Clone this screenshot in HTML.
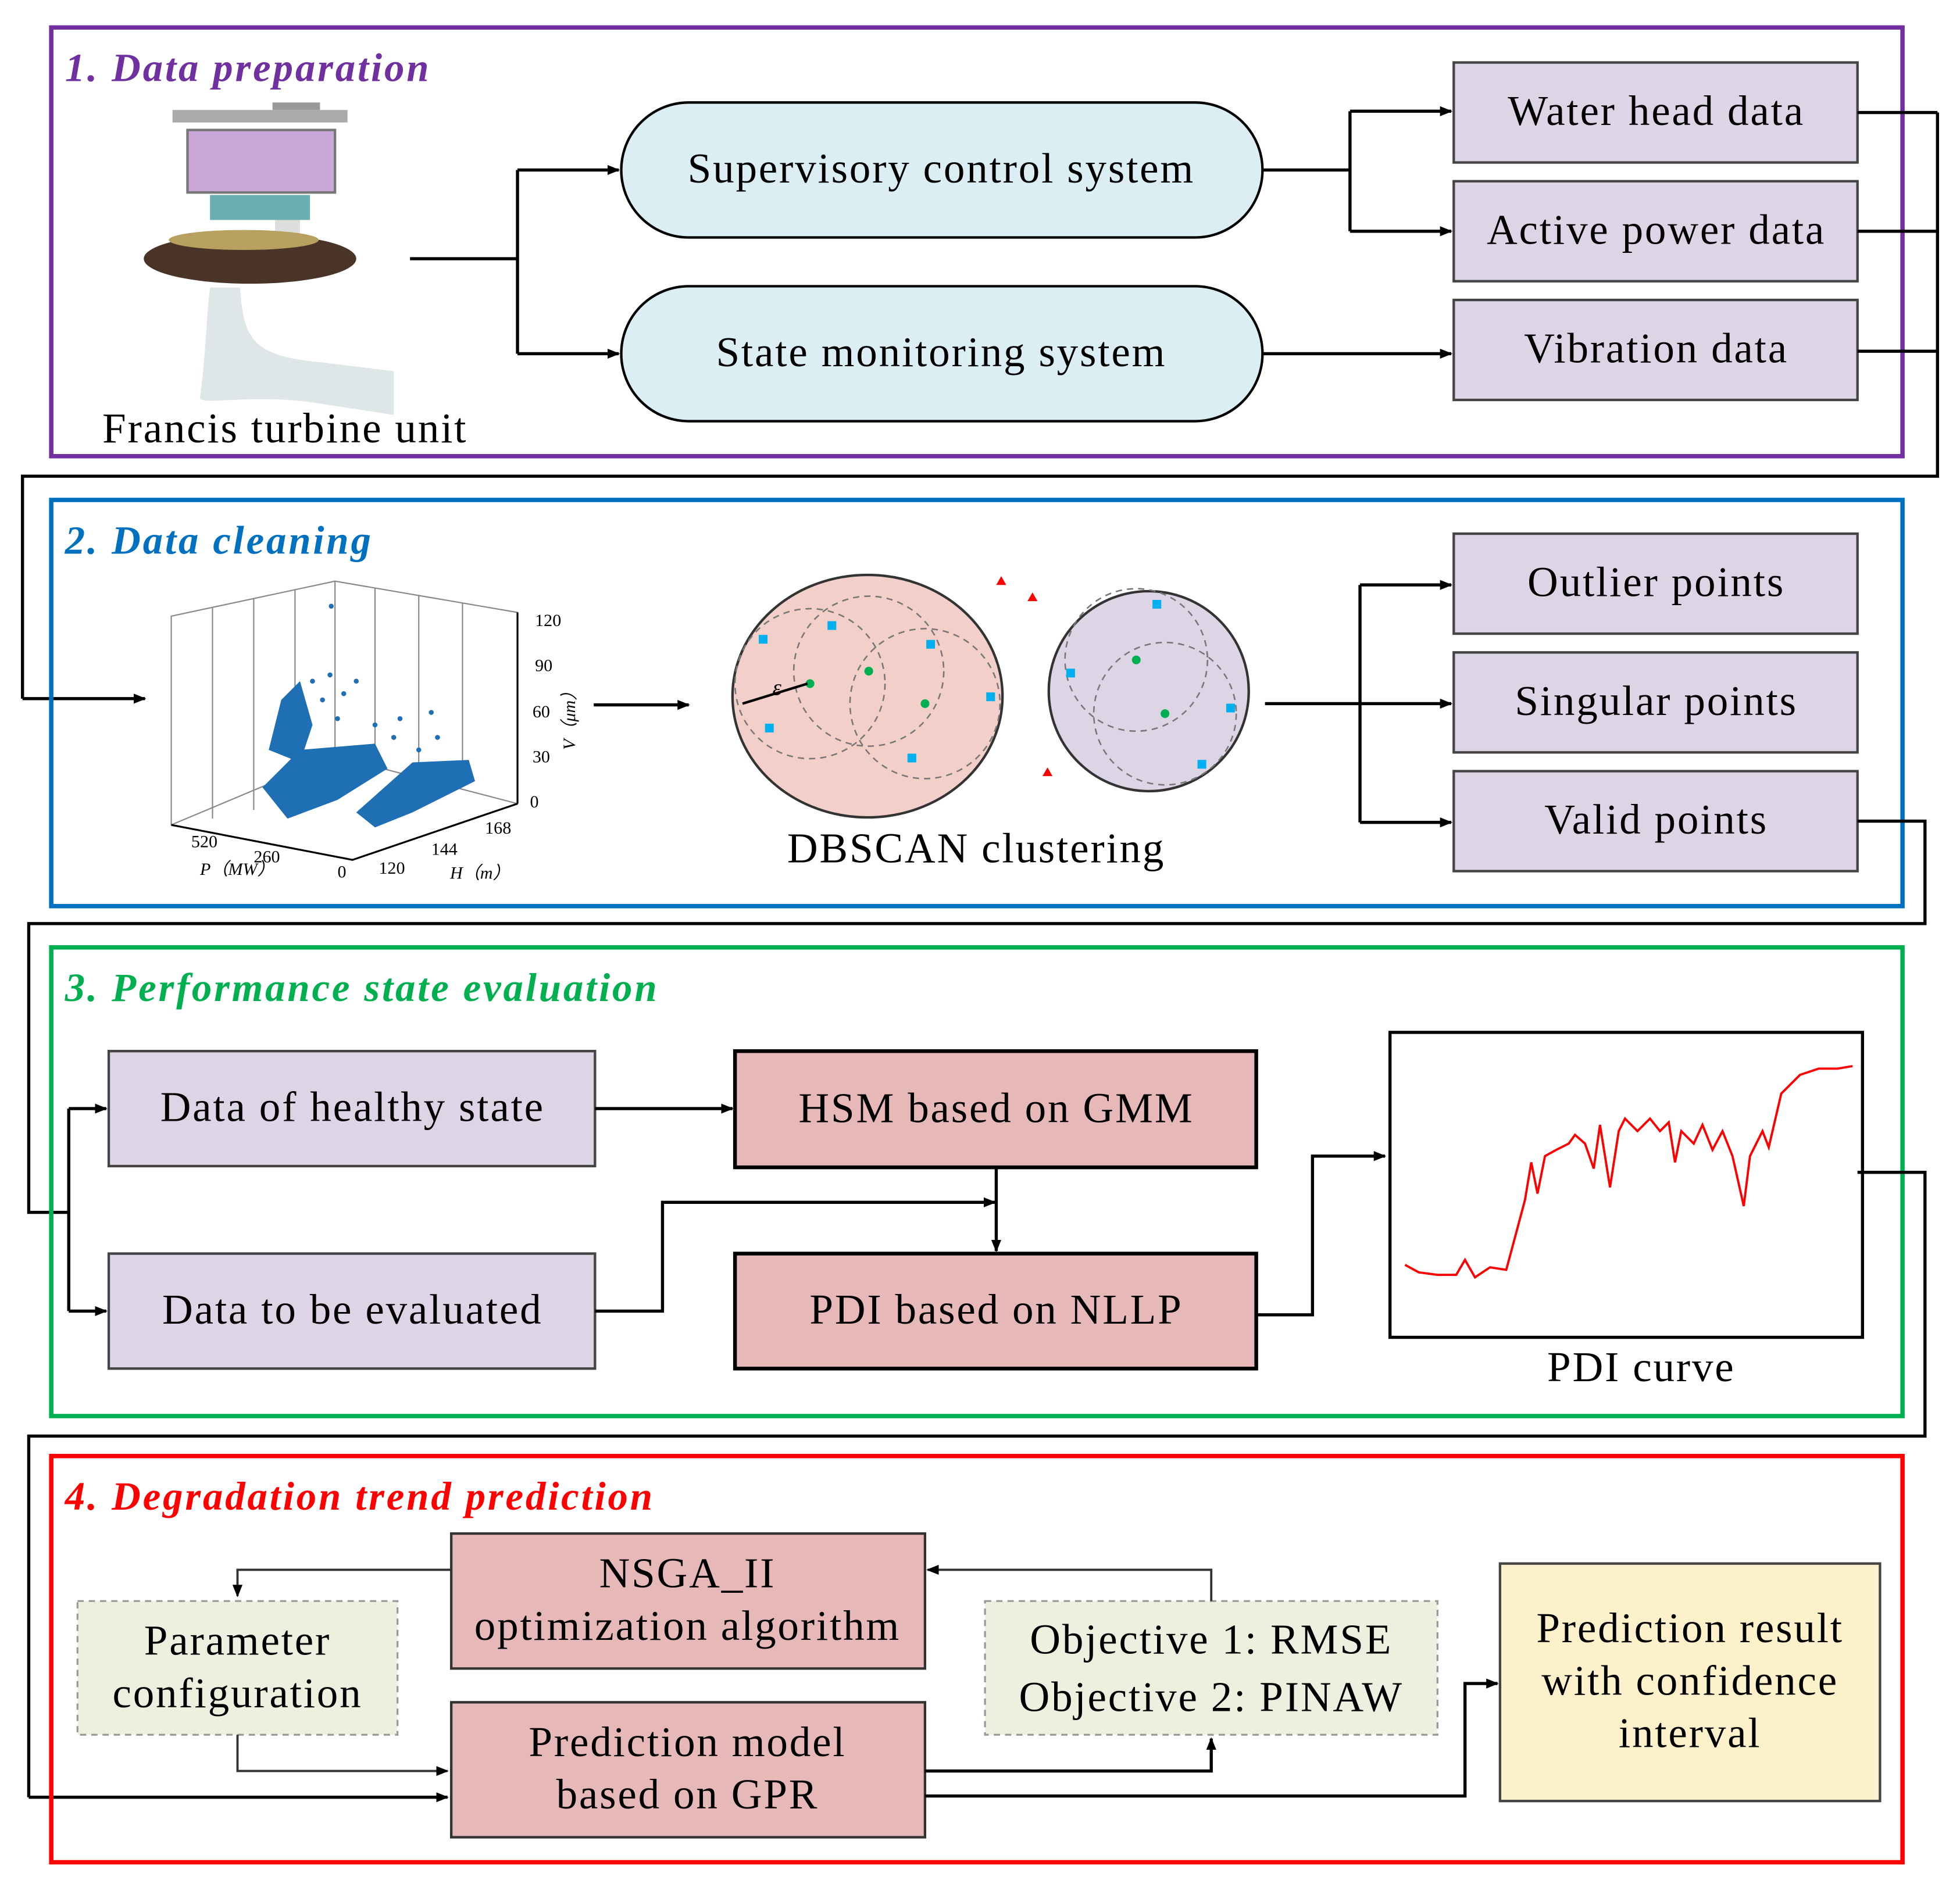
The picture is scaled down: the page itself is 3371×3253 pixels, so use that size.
<!DOCTYPE html>
<html><head><meta charset="utf-8"><style>
html,body{margin:0;padding:0;background:#fff;}
svg{display:block;}
text{font-family:"Liberation Serif",serif;}
.t{font-size:34px;fill:#000;text-anchor:middle;letter-spacing:1.3px;}
.h{font-size:32px;font-weight:bold;font-style:italic;letter-spacing:1.8px;}
.ln{fill:none;stroke:#000;stroke-width:2.5;}
</style></head><body>
<svg width="3371" height="3253" viewBox="0 0 1568 1513" preserveAspectRatio="none" xmlns="http://www.w3.org/2000/svg" font-family="Liberation Serif, serif">
<defs>
<marker id="a" markerWidth="10" markerHeight="10" refX="9" refY="5" orient="auto" markerUnits="userSpaceOnUse">
<path d="M0,1 L10,5 L0,9 Z" fill="#000"/></marker>
</defs>
<rect width="1568" height="1513" fill="#fff"/>

<!-- Section 1 -->
<rect x="41" y="22" width="1481" height="343" fill="none" stroke="#7030a0" stroke-width="3.5"/>
<text x="52" y="65" class="h" fill="#7030a0">1. Data preparation</text>
<rect x="220" y="165" width="20" height="35" fill="#ddd"/>
<rect x="150" y="104" width="118" height="50" fill="#c9a7d8" stroke="#777" stroke-width="2"/>
<rect x="218" y="82" width="38" height="6" fill="#999"/>
<rect x="138" y="88" width="140" height="10" fill="#aaa"/>
<rect x="168" y="156" width="80" height="20" fill="#6ab0b0"/>
<path d="M160,318 C165,280 165,255 168,230 L192,230 C195,270 200,285 258,290 L315,297 L315,332 L250,322 C200,315 160,325 160,318 Z" fill="#dfe6e8"/>
<ellipse cx="200" cy="207" rx="85" ry="20" fill="#4a3428"/>
<ellipse cx="195" cy="192" rx="60" ry="8" fill="#b8a060"/>
<text x="228" y="354" class="t" font-size="32">Francis turbine unit</text>
<path class="ln" d="M328,207 H414 M414,136 V283" />
<path class="ln" d="M414,136 H495" marker-end="url(#a)"/>
<path class="ln" d="M414,283 H495" marker-end="url(#a)"/>
<rect x="497" y="82" width="513" height="108" rx="54" fill="#daeef3" stroke="#000" stroke-width="2"/>
<rect x="497" y="229" width="513" height="108" rx="54" fill="#daeef3" stroke="#000" stroke-width="2"/>
<text x="753" y="146" class="t">Supervisory control system</text>
<text x="753" y="293" class="t">State monitoring system</text>
<path class="ln" d="M1010,136 H1080 M1080,89 V185"/>
<path class="ln" d="M1080,89 H1161" marker-end="url(#a)"/>
<path class="ln" d="M1080,185 H1161" marker-end="url(#a)"/>
<path class="ln" d="M1010,283 H1161" marker-end="url(#a)"/>
<g fill="#ddd5e6" stroke="#444" stroke-width="2">
<rect x="1163" y="50" width="323" height="80"/><rect x="1163" y="145" width="323" height="80"/><rect x="1163" y="240" width="323" height="80"/>
<rect x="1163" y="427" width="323" height="80"/><rect x="1163" y="522" width="323" height="80"/><rect x="1163" y="617" width="323" height="80"/>
<rect x="87" y="841" width="389" height="92"/><rect x="87" y="1003" width="389" height="92"/>
</g>
<text x="1325" y="100" class="t">Water head data</text>
<text x="1325" y="195" class="t">Active power data</text>
<text x="1325" y="290" class="t">Vibration data</text>
<path class="ln" d="M1486,90 H1550 M1486,185 H1550 M1486,281 H1550 M1550,90 V381 H18 V559"/>
<path class="ln" d="M18,559 H116" marker-end="url(#a)"/>

<!-- Section 2 -->
<rect x="41" y="400" width="1481" height="325" fill="none" stroke="#0070c0" stroke-width="3.5"/>
<text x="52" y="443" class="h" fill="#0070c0">2. Data cleaning</text>
<g stroke="#888" stroke-width="1" fill="none">
<path d="M137,493 L268,465 L414,490 L414,643 L282,688 L137,660 Z"/>
<path d="M268,465 V605 L137,660 M268,605 L414,643"/>
<path d="M170,486 V655 M203,479 V648 M236,472 V640 M300,470 V613 M335,476 V621 M370,482 V630"/>
</g>
<path d="M414,490 V643 M137,660 L282,688 L414,643" stroke="#000" stroke-width="1.5" fill="none"/>
<g font-size="14" font-family="Liberation Serif">
<text x="428" y="501">120</text><text x="428" y="537">90</text><text x="426" y="574">60</text><text x="426" y="610">30</text><text x="424" y="646">0</text>
<text x="153" y="678">520</text><text x="203" y="690">260</text><text x="270" y="702">0</text><text x="303" y="699">120</text><text x="345" y="684">144</text><text x="388" y="667">168</text>
<text x="160" y="700" font-style="italic">P（MW）</text><text x="360" y="703" font-style="italic">H（m）</text>
<text x="460" y="600" font-style="italic" transform="rotate(-90 460 600)">V（μm）</text>
</g>
<g fill="#1f6fb5">
<path d="M210,630 L240,600 L300,595 L310,615 L270,640 L230,655 Z"/>
<path d="M285,650 L330,610 L375,608 L380,625 L330,650 L300,662 Z"/>
<path d="M215,600 L225,560 L240,545 L250,580 L240,610 Z"/>
<circle cx="264" cy="540" r="2"/><circle cx="258" cy="560" r="2"/><circle cx="270" cy="575" r="2"/><circle cx="250" cy="545" r="2"/><circle cx="275" cy="555" r="2"/><circle cx="320" cy="575" r="2"/><circle cx="315" cy="590" r="2"/><circle cx="350" cy="590" r="2"/><circle cx="345" cy="570" r="2"/><circle cx="265" cy="485" r="2"/><circle cx="230" cy="575" r="2"/><circle cx="285" cy="545" r="2"/><circle cx="335" cy="600" r="2"/><circle cx="300" cy="580" r="2"/>
</g>
<path class="ln" d="M475,564 H551" marker-end="url(#a)"/>
<ellipse cx="694" cy="557" rx="108" ry="97" fill="#f2cfc8" stroke="#333" stroke-width="2"/>
<ellipse cx="919" cy="553" rx="80" ry="80" fill="#ddd5e6" stroke="#333" stroke-width="2"/>
<g fill="none" stroke="#777" stroke-dasharray="5,4" stroke-width="1.2">
<circle cx="648" cy="547" r="60"/><circle cx="695" cy="537" r="60"/><circle cx="740" cy="563" r="60"/>
<circle cx="909" cy="528" r="57"/><circle cx="932" cy="571" r="57"/></g>
<g fill="#00b0f0"><rect x="607" y="508" width="7" height="7"/><rect x="662" y="497" width="7" height="7"/><rect x="741" y="512" width="7" height="7"/><rect x="789" y="554" width="7" height="7"/><rect x="612" y="579" width="7" height="7"/><rect x="726" y="603" width="7" height="7"/><rect x="922" y="480" width="7" height="7"/><rect x="853" y="535" width="7" height="7"/><rect x="981" y="563" width="7" height="7"/><rect x="958" y="608" width="7" height="7"/></g>
<g fill="#00b050"><circle cx="648" cy="547" r="3.5"/><circle cx="695" cy="537" r="3.5"/><circle cx="740" cy="563" r="3.5"/><circle cx="909" cy="528" r="3.5"/><circle cx="932" cy="571" r="3.5"/></g>
<path d="M594,563 L646,547" stroke="#000" stroke-width="2"/><text x="618" y="556" font-size="18" font-style="italic">ε</text>
<g fill="#f00"><path d="M801,461 l4,7 h-8z"/><path d="M826,474 l4,7 h-8z"/><path d="M838,614 l4,7 h-8z"/></g>
<text x="781" y="690" class="t">DBSCAN clustering</text>
<path class="ln" d="M1012,563 H1088 M1088,468 V658"/>
<path class="ln" d="M1088,468 H1161" marker-end="url(#a)"/>
<path class="ln" d="M1088,563 H1161" marker-end="url(#a)"/>
<path class="ln" d="M1088,658 H1161" marker-end="url(#a)"/>
<text x="1325" y="477" class="t">Outlier points</text>
<text x="1325" y="572" class="t">Singular points</text>
<text x="1325" y="667" class="t">Valid points</text>
<path class="ln" d="M1486,657 H1540 V739 H23 V970 H55 M55,887 V1049"/>
<path class="ln" d="M55,887 H85" marker-end="url(#a)"/>
<path class="ln" d="M55,1049 H85" marker-end="url(#a)"/>

<!-- Section 3 -->
<rect x="41" y="758" width="1481" height="375" fill="none" stroke="#00b050" stroke-width="3.5"/>
<text x="52" y="801" class="h" fill="#00b050">3. Performance state evaluation</text>
<text x="282" y="897" class="t">Data of healthy state</text>
<text x="282" y="1059" class="t">Data to be evaluated</text>
<g fill="#e6b9b8" stroke="#000" stroke-width="3"><rect x="588" y="841" width="417" height="93"/><rect x="588" y="1003" width="417" height="92"/></g>
<text x="797" y="898" class="t">HSM based on GMM</text>
<text x="797" y="1059" class="t">PDI based on NLLP</text>
<path class="ln" d="M476,887 H586" marker-end="url(#a)"/>
<path class="ln" d="M476,1049 H530 V962 H796" marker-end="url(#a)"/>
<path class="ln" d="M797,934 V1001" marker-end="url(#a)"/>
<path class="ln" d="M1005,1052 H1050 V925 H1108" marker-end="url(#a)"/>
<rect x="1112" y="826" width="378" height="244" fill="#fff" stroke="#000" stroke-width="2.5"/>
<polyline fill="none" stroke="#f00" stroke-width="1.8" points="1124,1012 1135,1018 1150,1020 1165,1020 1172,1008 1180,1022 1192,1014 1205,1016 1212,990 1220,960 1225,930 1230,955 1236,925 1245,920 1255,915 1260,908 1268,915 1275,935 1280,900 1288,950 1295,905 1300,895 1310,905 1320,895 1328,905 1335,898 1340,930 1345,905 1355,915 1362,900 1370,920 1378,905 1386,925 1395,965 1400,925 1410,905 1415,918 1425,875 1440,860 1455,855 1470,855 1482,853"/>
<text x="1313" y="1105" class="t">PDI curve</text>
<path class="ln" d="M1486,938 H1540 V1149 H23 V1438"/>
<path class="ln" d="M23,1438 H358" marker-end="url(#a)"/>

<!-- Section 4 -->
<rect x="41" y="1165" width="1481" height="325" fill="none" stroke="#f00" stroke-width="3.5"/>
<text x="52" y="1208" class="h" fill="#f00">4. Degradation trend prediction</text>
<g fill="#e6b9b8" stroke="#333" stroke-width="2"><rect x="361" y="1227" width="379" height="108"/><rect x="361" y="1362" width="379" height="108"/></g>
<text x="550" y="1270" class="t">NSGA_II</text>
<text x="550" y="1312" class="t">optimization algorithm</text>
<text x="550" y="1405" class="t">Prediction model</text>
<text x="550" y="1447" class="t">based on GPR</text>
<g fill="#ebf1de" stroke="#999" stroke-width="1.5" stroke-dasharray="5,4"><rect x="62" y="1281" width="256" height="107"/><rect x="788" y="1281" width="362" height="107"/></g>
<text x="190" y="1324" class="t">Parameter</text>
<text x="190" y="1366" class="t">configuration</text>
<text x="969" y="1323" class="t">Objective 1:  RMSE</text>
<text x="969" y="1369" class="t">Objective 2:  PINAW</text>
<rect x="1200" y="1251" width="304" height="190" fill="#fdf1cc" stroke="#444" stroke-width="2"/>
<text x="1352" y="1314" class="t">Prediction result</text>
<text x="1352" y="1356" class="t">with confidence</text>
<text x="1352" y="1398" class="t">interval</text>
<path d="M361,1256 H190 V1277" fill="none" stroke="#333" stroke-width="1.8" marker-end="url(#a)"/>
<path d="M190,1388 V1417 H358" fill="none" stroke="#333" stroke-width="1.8" marker-end="url(#a)"/>
<path d="M969,1281 V1256 H742" fill="none" stroke="#333" stroke-width="1.8" marker-end="url(#a)"/>
<path class="ln" d="M740,1417 H969 V1391" marker-end="url(#a)"/>
<path class="ln" d="M740,1437 H1172 V1347 H1198" marker-end="url(#a)"/>
</svg>
</body></html>
